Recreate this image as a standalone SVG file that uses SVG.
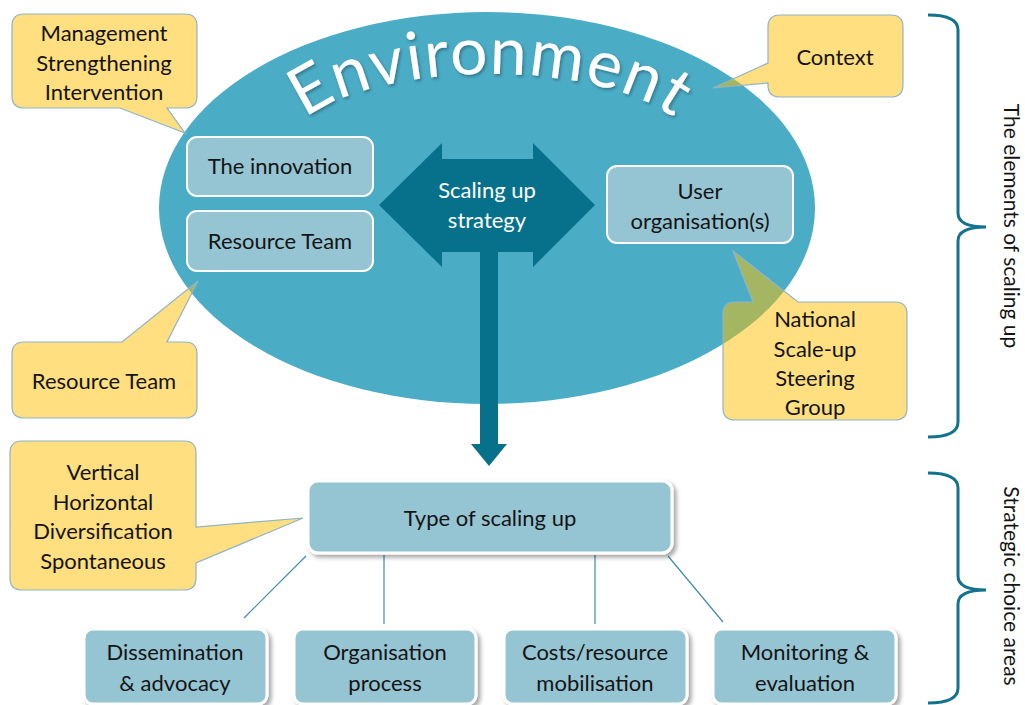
<svg xmlns="http://www.w3.org/2000/svg" xmlns:xlink="http://www.w3.org/1999/xlink" width="1025" height="705" viewBox="0 0 1025 705">
<defs>
<style>
.txt{font-family:Lato,"Liberation Sans",sans-serif;font-size:22px;fill:#141414;text-anchor:middle}
.wtxt{font-family:Lato,"Liberation Sans",sans-serif;font-size:22px;fill:#ffffff;text-anchor:middle}
.callout{fill:#FFC000;fill-opacity:0.5;stroke:#8FB4C8;stroke-width:1.2}
.inner{fill:#95C4D3;stroke:#ffffff;stroke-width:2}
.box{fill:#95C4D3;stroke:#ffffff;stroke-width:3;filter:url(#sh)}
.conn{stroke:#3C8EA6;stroke-width:1.2;fill:none}
.brace{stroke:#13728C;stroke-width:3;fill:none}
.side{font-family:Lato,"Liberation Sans",sans-serif;font-size:21px;fill:#141414;text-anchor:middle}
</style>
<filter id="sh" x="-10%" y="-20%" width="125%" height="150%">
<feDropShadow dx="3" dy="3" stdDeviation="2" flood-color="#000" flood-opacity="0.35"/>
</filter>
<filter id="tsh" x="-10%" y="-20%" width="120%" height="150%">
<feDropShadow dx="1.5" dy="2" stdDeviation="1.5" flood-color="#000" flood-opacity="0.3"/>
</filter>
<path id="arc" d="M 285,153 A 205,79 0 0 1 695,153"/>
</defs>
<rect width="1025" height="705" fill="#ffffff"/>

<g id="environment">
<ellipse cx="487" cy="208" rx="328" ry="196" fill="#4BACC6"/>
<text font-family="Lato,'Liberation Sans',sans-serif" font-size="66" letter-spacing="1.5" fill="#ffffff" text-anchor="middle" filter="url(#tsh)"><textPath xlink:href="#arc" startOffset="50%">Environment</textPath></text>
</g>

<g id="connectors">
<path d="M 379,205 L 442,143 L 442,159 L 533,159 L 533,143 L 595,205 L 533,267 L 533,252 L 442,252 L 442,267 Z" fill="#07718C"/>
<path d="M 480,250 L 498,250 L 498,444 L 507,444 L 489,466 L 471,444 L 480,444 Z" fill="#07718C"/>
<line class="conn" x1="306" y1="556" x2="244" y2="618"/>
<line class="conn" x1="384" y1="555" x2="384" y2="624"/>
<line class="conn" x1="595" y1="555" x2="595" y2="624"/>
<line class="conn" x1="668" y1="556" x2="723" y2="622"/>
</g>

<g id="strategy">
<text class="wtxt" x="487" y="198">Scaling up</text>
<text class="wtxt" x="487" y="228">strategy</text>
</g>

<g id="callout-management">
<path class="callout" d="M 24,14 H 185 Q 197,14 197,26 V 96 Q 197,108 185,108 H 167 L 185,133 L 120,108 H 24 Q 12,108 12,96 V 26 Q 12,14 24,14 Z"/>
<text class="txt" x="104" y="41">Management</text>
<text class="txt" x="104" y="71">Strengthening</text>
<text class="txt" x="104" y="100">Intervention</text>
</g>

<g id="callout-context">
<path class="callout" d="M 780,15 H 891 Q 903,15 903,27 V 85 Q 903,97 891,97 H 780 Q 768,97 768,85 V 83 L 713,88 L 768,63 V 27 Q 768,15 780,15 Z"/>
<text class="txt" x="835" y="65">Context</text>
</g>

<g id="callout-resource">
<path class="callout" d="M 24,342 H 122 L 198,281 L 167,342 H 185 Q 197,342 197,354 V 406 Q 197,418 185,418 H 24 Q 12,418 12,406 V 354 Q 12,342 24,342 Z"/>
<text class="txt" x="104" y="389">Resource Team</text>
</g>

<g id="callout-national">
<path class="callout" d="M 735,302 H 753 L 733,251 L 798,302 H 895 Q 907,302 907,314 V 408 Q 907,420 895,420 H 735 Q 723,420 723,408 V 314 Q 723,302 735,302 Z"/>
<text class="txt" x="815" y="327">National</text>
<text class="txt" x="815" y="357">Scale-up</text>
<text class="txt" x="815" y="386">Steering</text>
<text class="txt" x="815" y="415">Group</text>
</g>

<g id="callout-types">
<path class="callout" d="M 22,441 H 184 Q 196,441 196,453 V 527 L 303,518 L 196,563 V 578 Q 196,590 184,590 H 22 Q 10,590 10,578 V 453 Q 10,441 22,441 Z"/>
<text class="txt" x="103" y="480">Vertical</text>
<text class="txt" x="103" y="510">Horizontal</text>
<text class="txt" x="103" y="539">Diversification</text>
<text class="txt" x="103" y="569">Spontaneous</text>
</g>

<g id="innovation">
<rect class="inner" x="187" y="137" width="186" height="59" rx="10"/>
<text class="txt" x="280" y="174">The innovation</text>
</g>

<g id="resource-team">
<rect class="inner" x="187" y="211" width="186" height="60" rx="10"/>
<text class="txt" x="280" y="249">Resource Team</text>
</g>

<g id="user-org">
<rect class="inner" x="607" y="166" width="186" height="77" rx="10"/>
<text class="txt" x="700" y="199">User</text>
<text class="txt" x="700" y="229">organisation(s)</text>
</g>

<g id="type-scaling">
<rect class="box" x="308" y="481" width="364" height="72" rx="10"/>
<text class="txt" x="490" y="526">Type of scaling up</text>
</g>

<g id="dissemination">
<rect class="box" x="84" y="629" width="183" height="75" rx="9"/>
<text class="txt" x="175" y="660">Dissemination</text>
<text class="txt" x="175" y="691">&amp; advocacy</text>
</g>

<g id="organisation">
<rect class="box" x="294" y="629" width="182" height="75" rx="9"/>
<text class="txt" x="385" y="660">Organisation</text>
<text class="txt" x="385" y="691">process</text>
</g>

<g id="costs">
<rect class="box" x="504" y="629" width="183" height="75" rx="9"/>
<text class="txt" x="595" y="660">Costs/resource</text>
<text class="txt" x="595" y="691">mobilisation</text>
</g>

<g id="monitoring">
<rect class="box" x="713" y="629" width="183" height="75" rx="9"/>
<text class="txt" x="805" y="660">Monitoring &amp;</text>
<text class="txt" x="805" y="691">evaluation</text>
</g>

<g id="brace-elements">
<path class="brace" d="M 928,15 Q 958,15 958,30 L 958,213 Q 958,227 986,227 Q 958,227 958,241 L 958,422 Q 958,437 928,437"/>
<text class="side" transform="translate(1004,226) rotate(90)">The elements of scaling up</text>
</g>

<g id="brace-strategic">
<path class="brace" d="M 928,473 Q 958,473 958,488 L 958,576 Q 958,590 986,590 Q 958,590 958,604 L 958,688 Q 958,703 928,703"/>
<text class="side" transform="translate(1004,586) rotate(90)">Strategic choice areas</text>
</g>
</svg>
